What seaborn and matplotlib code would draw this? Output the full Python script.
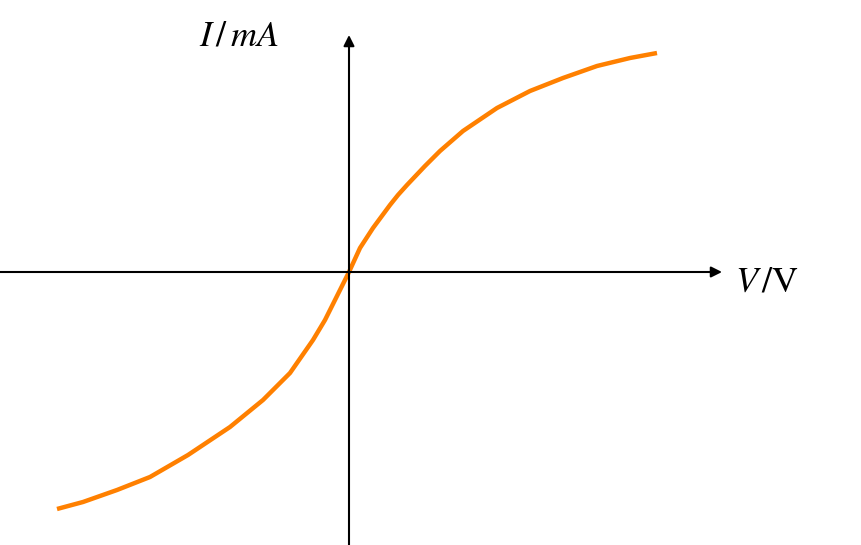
import numpy as np
import pandas as pd
import matplotlib
matplotlib.use("Agg")
import matplotlib.pyplot as plt
import seaborn as sns

# curve points (arbitrary units, origin at axis crossing)
voltage = [-292, -266, -232, -199, -161, -119, -86, -59, -36, -24, -14, 0,
           11, 24, 41, 49, 58, 76, 91, 114, 148, 181, 214, 248, 281, 308]
current = [-237, -230, -218, -205, -183, -155, -128, -101, -68, -48, -28, 0,
           24, 44, 67, 77, 87, 106, 121, 141, 164, 181, 194, 206, 214, 219]

df = pd.DataFrame({"V": voltage, "I": current})

sns.set_style("white")
plt.rcParams["mathtext.fontset"] = "stix"

fig = plt.figure(figsize=(8.62, 5.45), dpi=100)
ax = fig.add_axes([0, 0, 1, 1])
ax.set_xlim(-349, 513)
ax.set_ylim(-273, 272)
ax.axis("off")

# axes with arrows
arrow = dict(arrowstyle="-|>", color="black", lw=1.5, mutation_scale=16,
             shrinkA=0, shrinkB=0)
ax.annotate("", xy=(373, 0), xytext=(-349, 0), arrowprops=arrow)
ax.annotate("", xy=(0, 237), xytext=(0, -273), arrowprops=arrow)

sns.lineplot(data=df, x="V", y="I", ax=ax, color="#ff8000", lw=3.2,
             solid_joinstyle="round", solid_capstyle="butt")

ax.text(-110, 237, r"$I\,/\,mA$", fontsize=26, color="black",
        ha="center", va="center")
ax.text(418, -9, r"$V\,/\mathrm{V}$", fontsize=26, color="black",
        ha="center", va="center")

fig.savefig("out.png", dpi=100)
